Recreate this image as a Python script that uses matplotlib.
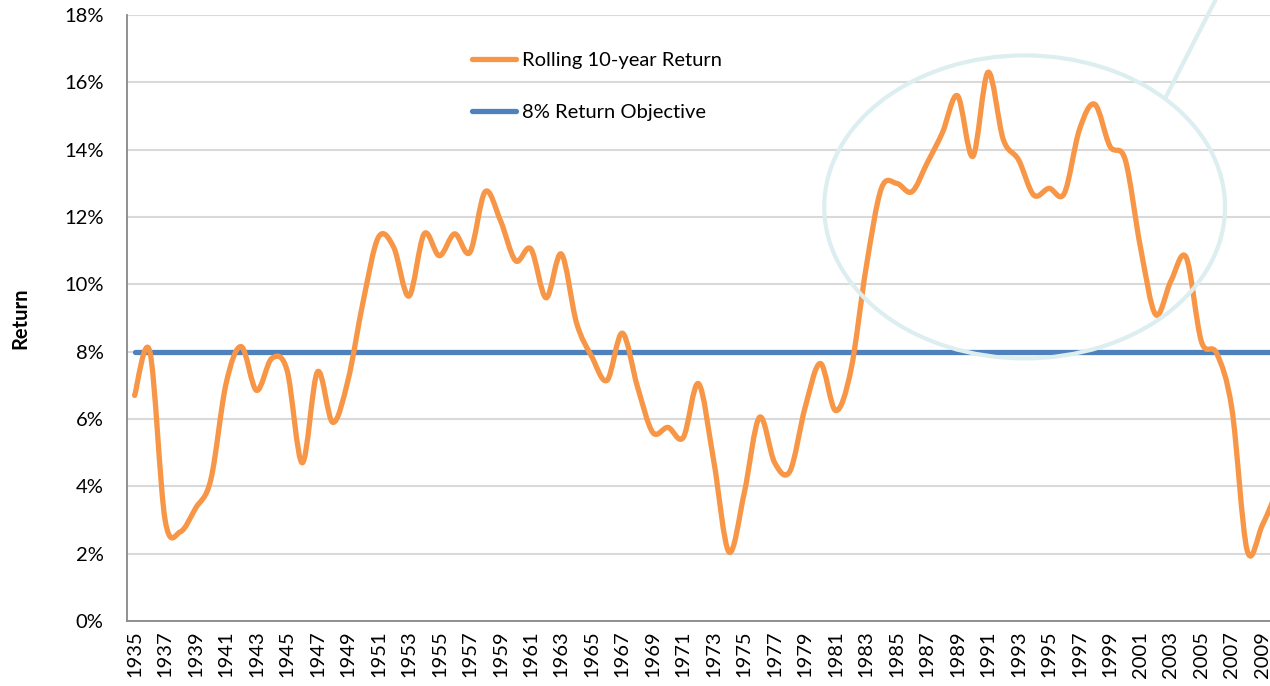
import matplotlib
matplotlib.use('Agg')
import matplotlib.pyplot as plt
from matplotlib.path import Path
from matplotlib.patches import PathPatch, Ellipse
from matplotlib.lines import Line2D
from matplotlib.ticker import FuncFormatter
import numpy as np

# valores (retorno movel de 10 anos, %)
anos = list(range(1935, 2011))
retorno = [6.7, 8.0, 3.0, 2.65, 3.35, 4.2, 7.05, 8.15, 6.85, 7.8,
           7.45, 4.7, 7.4, 5.9, 7.15, 9.5, 11.4, 11.1, 9.65, 11.5,
           10.85, 11.5, 10.95, 12.75, 11.9, 10.7, 11.05, 9.6, 10.9, 8.85,
           7.85, 7.15, 8.55, 6.95, 5.6, 5.75, 5.45, 7.05, 4.75, 2.05,
           3.8, 6.05, 4.7, 4.45, 6.35, 7.65, 6.25, 7.45, 10.5, 12.85,
           13.0, 12.75, 13.6, 14.5, 15.6, 13.8, 16.3, 14.3, 13.7, 12.65,
           12.85, 12.7, 14.6, 15.35, 14.1, 13.7, 11.1, 9.1, 10.1, 10.8,
           8.3, 7.95, 6.3, 2.1, 2.85, 3.9]
objetivo = 8.0

rotulo_retorno = 'Rolling 10-year Return'
rotulo_objetivo = '8% Return Objective'
rotulo_y = 'Return'

laranja = '#F79646'
azul = '#4F81BD'
circulo = '#DCEEF0'

plt.rcParams['font.family'] = ['Lato', 'DejaVu Sans']


def caminho_suave(x, y):
    # curva suave estilo Excel (bezier cubica pelos pontos)
    x = np.asarray(x, float)
    y = np.asarray(y, float)
    n = len(x)
    verts = [(x[0], y[0])]
    codes = [Path.MOVETO]
    for i in range(n - 1):
        i0 = max(i - 1, 0)
        i3 = min(i + 2, n - 1)
        c1 = (x[i] + (x[i + 1] - x[i0]) / 6, y[i] + (y[i + 1] - y[i0]) / 6)
        c2 = (x[i + 1] - (x[i3] - x[i]) / 6, y[i + 1] - (y[i3] - y[i]) / 6)
        verts += [c1, c2, (x[i + 1], y[i + 1])]
        codes += [Path.CURVE4] * 3
    return Path(verts, codes)


fig = plt.figure(figsize=(12.7, 6.86), dpi=100)
ax = fig.add_axes([127 / 1270, 65 / 686, 1143 / 1270, 606 / 686])

ax.set_xlim(1934.5, 2009.5)
ax.set_ylim(0, 18)

ax.yaxis.grid(True, color='#D9D9D9', linewidth=1.5)
ax.set_axisbelow(True)
for s in ['top', 'right']:
    ax.spines[s].set_visible(False)
for s in ['left', 'bottom']:
    ax.spines[s].set_color('#888888')
    ax.spines[s].set_linewidth(1.3)

ax.set_yticks(np.arange(0, 19, 2))
ax.yaxis.set_major_formatter(FuncFormatter(lambda v, p: '%d%%' % v))
ax.set_xticks(anos[::2])
ax.set_xticklabels([str(a) for a in anos[::2]], rotation=90)
ax.tick_params(axis='both', length=0, labelsize=14.5, colors='black')
ax.tick_params(axis='y', pad=17)
ax.tick_params(axis='x', pad=7)
ax.set_ylabel(rotulo_y, fontsize=14.5, fontweight='bold', labelpad=24)

# linha do objetivo
ax.plot([anos[0], 2011], [objetivo, objetivo], color=azul, linewidth=3.8,
        solid_capstyle='round', zorder=3)

# retorno movel suavizado
ax.add_patch(PathPatch(caminho_suave(anos, retorno), facecolor='none',
                       edgecolor=laranja, linewidth=3.8, capstyle='round',
                       joinstyle='round', zorder=4))

# destaque: elipse + linha de chamada
ax.add_patch(Ellipse((1993.4, 12.3), 26.3, 9.0, facecolor='none',
                     edgecolor=circulo, linewidth=3.0, zorder=5))
ax.plot([2002.65, 2007.0], [15.55, 19.4], color=circulo, linewidth=3.0,
        clip_on=False, zorder=5)

# legenda
h1 = Line2D([], [], color=laranja, linewidth=3.8, solid_capstyle='round')
h2 = Line2D([], [], color=azul, linewidth=3.8, solid_capstyle='round')
ax.legend([h1, h2], [rotulo_retorno, rotulo_objetivo], loc='upper left',
          bbox_to_anchor=(472 / 1270, 1 - 52 / 686),
          bbox_transform=fig.transFigure, frameon=False, fontsize=14.5,
          handlelength=2.2, handletextpad=0.3, labelspacing=1.75,
          borderpad=0, borderaxespad=0)

fig.savefig('out.png', dpi=100)
